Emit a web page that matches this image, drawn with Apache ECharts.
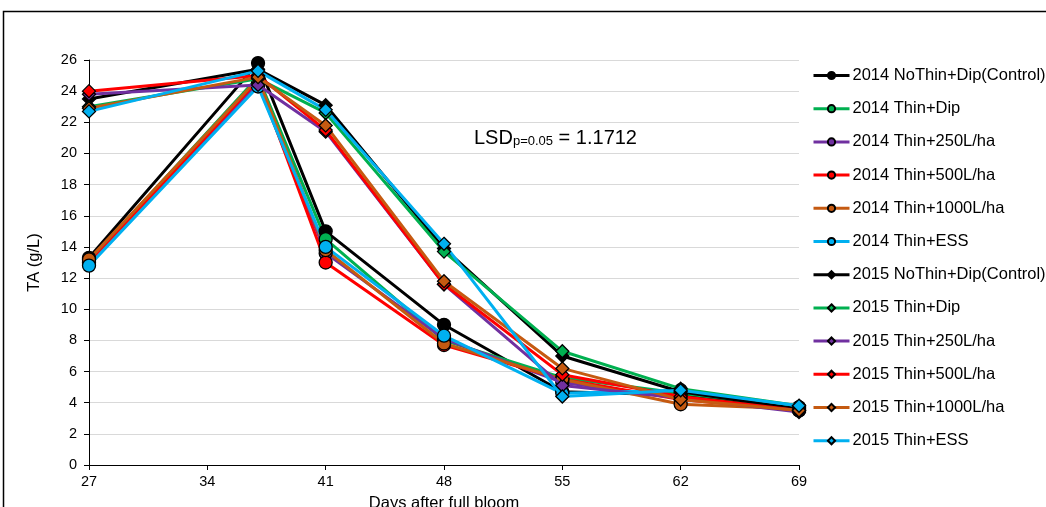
<!DOCTYPE html>
<html>
<head>
<meta charset="utf-8">
<script src="https://cdn.jsdelivr.net/npm/echarts@6/dist/echarts.min.js"></script>
<style>
html,body{margin:0;padding:0;background:#fff;}
#c{width:1046px;height:507px;}
</style>
</head>
<body>
<div id="c"></div>
<script>
const days = [27, 37, 41, 48, 55, 62, 69];
const xTicks = [27, 34, 41, 48, 55, 62, 69];
const names = [
  "2014 NoThin+Dip(Control)", "2014 Thin+Dip", "2014 Thin+250L/ha", "2014 Thin+500L/ha", "2014 Thin+1000L/ha", "2014 Thin+ESS",
  "2015 NoThin+Dip(Control)", "2015 Thin+Dip", "2015 Thin+250L/ha", "2015 Thin+500L/ha", "2015 Thin+1000L/ha", "2015 Thin+ESS"
];
const colors = ["#000000", "#00B050", "#7030A0", "#FF0000", "#C55A11", "#00B0F0"];
// 2014 (circles)
const c2014 = [13.3, 25.8, 15.0, 9.0, 4.7, 4.5, 3.6];
const t2014dip = [13.1, 24.9, 14.5, 8.0, 5.6, 4.6, 3.7];
const t2014_250 = [13.0, 24.5, 13.6, 8.1, 5.3, 4.3, 3.5];
const t2014_500 = [12.9, 24.7, 13.0, 7.7, 5.5, 4.2, 3.5];
const t2014_1000 = [13.2, 24.8, 13.8, 7.8, 5.5, 3.9, 3.6];
const t2014ess = [12.8, 24.3, 14.0, 8.3, 4.6, 4.8, 3.7];
// 2015 (diamonds)
const c2015 = [23.5, 25.4, 23.1, 13.9, 7.0, 4.7, 3.6];
const t2015dip = [23.0, 24.8, 22.6, 13.7, 7.3, 4.9, 3.8];
const t2015_250 = [23.8, 24.4, 21.4, 11.6, 5.1, 4.3, 3.4];
const t2015_500 = [24.0, 25.0, 21.5, 11.6, 5.8, 4.4, 3.5];
const t2015_1000 = [22.9, 24.9, 21.8, 11.8, 6.2, 4.2, 3.5];
const t2015ess = [22.7, 25.3, 22.8, 14.2, 4.4, 4.8, 3.8];
const allValues = [c2014, t2014dip, t2014_250, t2014_500, t2014_1000, t2014ess,
                   c2015, t2015dip, t2015_250, t2015_500, t2015_1000, t2015ess];

const FONT = 'Liberation Sans, Arial';
const chart = echarts.init(document.getElementById('c'));
const series = allValues.map((vals, i) => {
  const is2014 = i < 6;
  const col = colors[i % 6];
  return {
    name: names[i],
    type: 'line',
    data: vals.map((v, k) => [days[k], v]),
    symbol: is2014 ? 'circle' : 'diamond',
    symbolSize: 13,
    showAllSymbol: true,
    lineStyle: { color: col, width: 3 },
    itemStyle: { color: col, borderColor: '#000', borderWidth: 1.3 },
    emphasis: { disabled: true },
    z: is2014 ? 2 : 3
  };
});

chart.setOption({
  animation: false,
  backgroundColor: '#fff',
  graphic: [{
    type: 'rect',
    shape: { x: 3.5, y: 11.5, width: 1100, height: 600 },
    style: { fill: 'none', stroke: '#000', lineWidth: 1.5 },
    silent: true
  }, {
    type: 'text',
    left: 474, top: 128,
    style: {
      text: '{a|LSD}{s|p=0.05}{a| = 1.1712}',
      rich: {
        a: { fontFamily: FONT, fontSize: 20, fill: '#000', verticalAlign: 'bottom' },
        s: { fontFamily: FONT, fontSize: 13, fill: '#000', padding: [9, 0, 0, 0], verticalAlign: 'bottom' }
      }
    },
    silent: true
  }],
  grid: { left: 89, top: 60, width: 710, height: 405, containLabel: false, outerBoundsMode: 'none' },
  legend: {
    orient: 'vertical',
    left: 812, top: 67, padding: 0,
    itemWidth: 36, itemHeight: 9, itemGap: 16.2,
    lineStyle: { width: 3 },
    textStyle: { fontFamily: FONT, fontSize: 16.5, color: '#000', padding: [0, 0, 0, -2] },
    data: names
  },
  xAxis: {
    type: 'value',
    min: 27, max: 69, interval: 7,
    name: 'Days after full bloom',
    nameLocation: 'middle', nameGap: 30,
    nameTextStyle: { fontFamily: FONT, fontSize: 16.5, color: '#000' },
    axisLine: { show: true, lineStyle: { color: '#000', width: 1 } },
    axisTick: { show: true, length: 5, lineStyle: { color: '#000' } },
    axisLabel: { fontFamily: FONT, fontSize: 14.5, color: '#000', margin: 9,
      formatter: v => xTicks.includes(v) ? String(v) : '' },
    splitLine: { show: false }
  },
  yAxis: {
    type: 'value',
    min: 0, max: 26, interval: 2,
    name: 'TA (g/L)',
    nameLocation: 'middle', nameGap: 46,
    nameTextStyle: { fontFamily: FONT, fontSize: 16.5, color: '#000' },
    axisLine: { show: true, lineStyle: { color: '#000', width: 1 } },
    axisTick: { show: true, length: 5, lineStyle: { color: '#000' } },
    axisLabel: { fontFamily: FONT, fontSize: 14.5, color: '#000', margin: 12 },
    splitLine: { show: true, lineStyle: { color: '#d9d9d9', width: 1 } }
  },
  series: series
});
</script>
</body>
</html>
